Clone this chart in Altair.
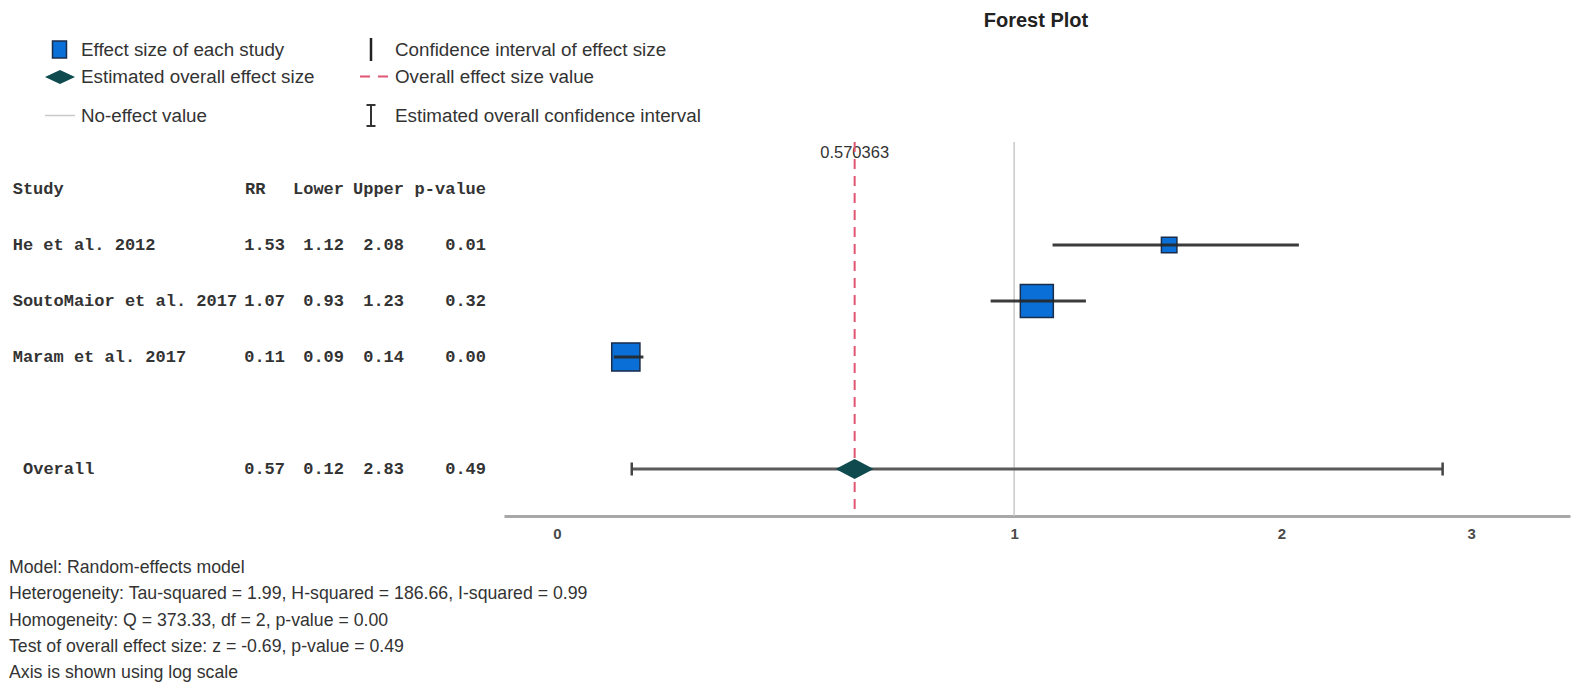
import altair as alt
import pandas as pd

# ---------------- data ----------------
studies = ["He et al. 2012", "SoutoMaior et al. 2017", "Maram et al. 2017"]
rr = [1.53, 1.07, 0.11]
lower = [1.12, 0.93, 0.09]
upper = [2.08, 1.23, 0.14]
p_values = [0.01, 0.32, 0.00]
weights = [0.22, 1.00, 0.73]
study_rows = [1, 2, 3]

overall_name = "Overall"
overall_rr = 0.570363
overall_lower = 0.12
overall_upper = 2.83
overall_p = 0.49
overall_row = 5

header_row = 0
column_headers = ["Study", "RR", "Lower", "Upper", "p-value"]
no_effect_value = 1
axis_ticks = [0, 1, 2, 3]

legend_left = ["Effect size of each study", "Estimated overall effect size", "No-effect value"]
legend_right = ["Confidence interval of effect size", "Overall effect size value",
                "Estimated overall confidence interval"]
footnotes = [
    "Model: Random-effects model",
    "Heterogeneity: Tau-squared = 1.99, H-squared = 186.66, I-squared = 0.99",
    "Homogeneity: Q = 373.33, df = 2, p-value = 0.00",
    "Test of overall effect size: z = -0.69, p-value = 0.49",
    "Axis is shown using log scale",
]
title_text = "Forest Plot"

# ---------------- styles ----------------
BLUE = "#0a6fd6"
NAVY = "#1b2d4a"
TEAL = "#0e4a4e"
RED = "#e05572"
LGRAY = "#c9c9c9"
SANS = "Liberation Sans"
MONO = "Liberation Mono"
TXT = "#333333"

df_studies = pd.DataFrame(dict(name=studies, rr=rr, lower=lower, upper=upper,
                               p=p_values, w=weights, row=study_rows))
df_overall = pd.DataFrame(dict(name=[overall_name], rr=[overall_rr], lower=[overall_lower],
                               upper=[overall_upper], p=[overall_p], row=[overall_row]))
df_table = pd.concat([df_studies.drop(columns="w"), df_overall], ignore_index=True)
df_header = pd.DataFrame(dict(label=column_headers, row=[header_row] * len(column_headers)))
df_ne = pd.DataFrame(dict(v=[no_effect_value]))
df_ov = pd.DataFrame(dict(v=[overall_rr]))
dummy = pd.DataFrame(dict(k=[0]))

xscale = alt.Scale(type="symlog", constant=1, domain=[-0.0837, 3.646],
                   range=[496, 1562], nice=False, zero=False)
yscale = alt.Scale(domain=[0, 5], range=[181, 461], nice=False, zero=False)
xaxis = alt.Axis(values=axis_ticks, format="d", ticks=False, tickSize=0, grid=False,
                 title=None, labelFontSize=15, labelFontWeight="bold", labelColor="#4a4a4a",
                 labelFont=SANS, labelPadding=10, domainColor="#a8a8a8", domainWidth=3,
                 labelFlush=False, labelOverlap=False)


def X(f):
    return alt.X(f, type="quantitative", scale=xscale, axis=xaxis)


Y = alt.Y("row:Q", scale=yscale, axis=None)

layers = []

# no-effect line
layers.append(alt.Chart(df_ne).mark_rule(color=LGRAY, strokeWidth=1.5).encode(
    x=X("v"), y=alt.value(134), y2=alt.value(508)))
# overall value label
layers.append(alt.Chart(df_ov).mark_text(font=SANS, fontSize=16.5, color=TXT, align="center",
                                          baseline="middle").encode(
    x=X("v"), y=alt.value(145), text=alt.Text("v:Q", format=".6f")))
# overall dashed line
layers.append(alt.Chart(df_ov).mark_rule(color=RED, strokeWidth=2, strokeDash=[10, 7]).encode(
    x=X("v"), y=alt.value(134), y2=alt.value(508)))
# study squares
layers.append(alt.Chart(df_studies).mark_point(shape="square", filled=True, fill=BLUE, stroke=NAVY,
                                                strokeWidth=1.5, opacity=1).encode(
    x=X("rr"), y=Y,
    size=alt.Size("w:Q", scale=alt.Scale(domain=[0, 1], range=[0, 1089]), legend=None)))
# study CIs
layers.append(alt.Chart(df_studies).mark_rule(color="#262626", strokeWidth=3, opacity=0.9).encode(
    x=X("lower"), x2="upper", y=Y))
# overall CI + caps
layers.append(alt.Chart(df_overall).mark_rule(color="#5a5a5a", strokeWidth=3).encode(
    x=X("lower"), x2="upper", y=Y))
layers.append(alt.Chart(df_overall).mark_tick(orient="vertical", size=13, thickness=2.5,
                                               color="#444444", opacity=1).encode(x=X("lower"), y=Y))
layers.append(alt.Chart(df_overall).mark_tick(orient="vertical", size=13, thickness=2.5,
                                               color="#444444", opacity=1).encode(x=X("upper"), y=Y))
# overall diamond
layers.append(alt.Chart(df_overall).mark_point(shape="M-1,0L0,-0.53L1,0L0,0.53Z", filled=True,
                                                color=TEAL, size=1444, opacity=1).encode(
    x=X("rr"), y=Y))

# ---------------- table ----------------
tstyle = dict(font=MONO, fontSize=17, fontWeight="bold", color="#333333", baseline="middle")
layers.append(alt.Chart(df_studies).mark_text(align="left", **tstyle).encode(
    x=alt.value(4.7), y=Y, text="name:N"))
layers.append(alt.Chart(df_overall).mark_text(align="left", **tstyle).encode(
    x=alt.value(15), y=Y, text="name:N"))
for field, xr in [("rr", 277), ("lower", 336), ("upper", 396), ("p", 478)]:
    layers.append(alt.Chart(df_table).mark_text(align="right", **tstyle).encode(
        x=alt.value(xr), y=Y, text=alt.Text(f"{field}:Q", format=".2f")))
for lab, xr, al in [("Study", 4.7, "left"), ("RR", 237, "left"), ("Lower", 336, "right"),
                    ("Upper", 396, "right"), ("p-value", 478, "right")]:
    layers.append(alt.Chart(df_header).transform_filter(alt.datum.label == lab).mark_text(
        align=al, **tstyle).encode(x=alt.value(xr), y=Y, text="label:N"))

# ---------------- legend ----------------
lstyle = dict(font=SANS, fontSize=18.8, color=TXT, align="left", baseline="middle")
for txt, yy in zip(legend_left, [42, 69, 107.5]):
    layers.append(alt.Chart(dummy).mark_text(text=txt, **lstyle).encode(
        x=alt.value(73), y=alt.value(yy)))
for txt, yy in zip(legend_right, [42, 68.5, 107.5]):
    layers.append(alt.Chart(dummy).mark_text(text=txt, **lstyle).encode(
        x=alt.value(387), y=alt.value(yy)))
layers.append(alt.Chart(dummy).mark_rect(fill=BLUE, stroke=NAVY, strokeWidth=1.5).encode(
    x=alt.value(44.5), x2=alt.value(58.5), y=alt.value(33), y2=alt.value(50)))
layers.append(alt.Chart(dummy).mark_point(shape="M-1,0L0,-0.47L1,0L0,0.47Z", filled=True,
                                           color=TEAL, size=900, opacity=1).encode(
    x=alt.value(52), y=alt.value(69)))
layers.append(alt.Chart(dummy).mark_rule(color=LGRAY, strokeWidth=1.5).encode(
    x=alt.value(37), x2=alt.value(67), y=alt.value(107.5)))
layers.append(alt.Chart(dummy).mark_rule(color="#222222", strokeWidth=2.5).encode(
    x=alt.value(363), y=alt.value(30), y2=alt.value(53)))
layers.append(alt.Chart(dummy).mark_rule(color=RED, strokeWidth=2, strokeDash=[10, 8]).encode(
    x=alt.value(352), x2=alt.value(380), y=alt.value(68.5)))
layers.append(alt.Chart(dummy).mark_rule(color="#333333", strokeWidth=2).encode(
    x=alt.value(363), y=alt.value(97), y2=alt.value(118)))
layers.append(alt.Chart(dummy).mark_rule(color="#333333", strokeWidth=2).encode(
    x=alt.value(358.5), x2=alt.value(367.5), y=alt.value(97)))
layers.append(alt.Chart(dummy).mark_rule(color="#333333", strokeWidth=2).encode(
    x=alt.value(358.5), x2=alt.value(367.5), y=alt.value(118)))

# ---------------- title & footnotes ----------------
layers.append(alt.Chart(dummy).mark_text(text=title_text, font=SANS, fontSize=20, fontWeight="bold",
                                          color="#222222", align="center", baseline="middle").encode(
    x=alt.value(1028), y=alt.value(13)))
layers.append(alt.Chart(dummy).mark_text(text=footnotes, font=SANS, fontSize=17.7, color=TXT,
                                          align="left", baseline="alphabetic", lineHeight=26.3).encode(
    x=alt.value(1), y=alt.value(565)))

chart = alt.layer(*layers).properties(
    width=1564, height=508, padding=0, background="white"
).configure_view(stroke=None)

chart.save("out.html", embed_options={"renderer": "svg", "actions": False})
